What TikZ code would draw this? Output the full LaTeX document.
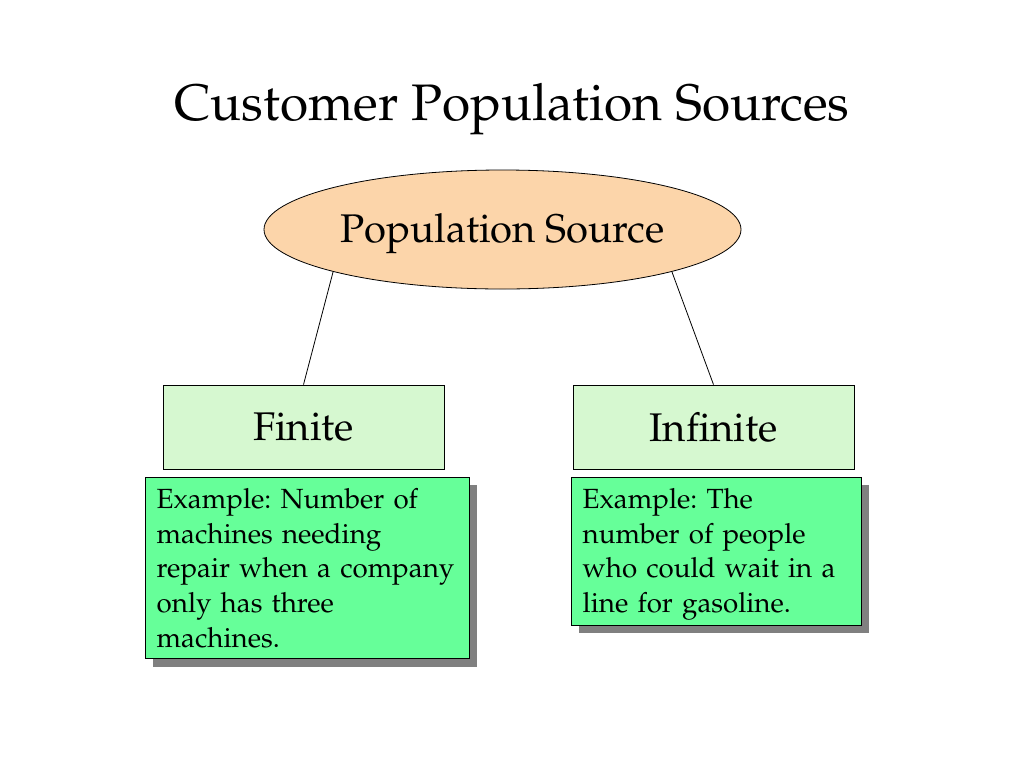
\documentclass[tikz,border=0pt]{standalone}
\usepackage[T1]{fontenc}
\usepackage{mathpazo}
\usetikzlibrary{shapes.geometric,shadows}

\definecolor{peach}{RGB}{252,213,170}
\definecolor{kindgreen}{RGB}{214,248,208}
\definecolor{exgreen}{RGB}{102,255,153}
\definecolor{shadowgray}{RGB}{128,128,128}

\tikzset{
  srcnode/.style={ellipse, draw, fill=peach, line width=0.6pt, inner sep=0pt,
    text height=28.5pt, text depth=8.3pt,
    minimum width=357.75pt, minimum height=89.25pt, font=\fontsize{30}{36}\selectfont},
  kindbox/.style={rectangle, draw, fill=kindgreen, line width=0.6pt,
    minimum width=210.75pt, minimum height=63pt, font=\fontsize{30}{36}\selectfont},
  exbox/.style={rectangle, draw, fill=exgreen, line width=0.6pt, anchor=north west,
    align=left, inner xsep=8.5pt, inner ysep=8.3pt,
    font=\fontsize{20.8}{26}\selectfont\frenchspacing,
    drop shadow={shadow xshift=6pt, shadow yshift=-6pt, opacity=1, fill=shadowgray}},
  link/.style={line width=0.6pt}
}

\begin{document}
\begin{tikzpicture}[x=0.75pt,y=-0.75pt]
\useasboundingbox (0,0) rectangle (1024,768);

% heading
\node[anchor=base] (title) at (512,120) {\fontsize{38.5}{46}\selectfont Customer Population Sources};

% source and its two kinds
\node[srcnode] (src) at (502.5,229.5) {Population Source};
\node[kindbox] (fin) at (303.5,427) {Finite};
\node[kindbox] (infin) at (713.5,427) {Infinite};

% examples
\node[exbox, text width=226pt] (exfin) at (145,477) {Example: Number of\\ machines needing\\ repair when a company\\ only has three\\ machines.};
\node[exbox, text width=200.5pt, text depth=79.4pt] (exinf) at (571,477) {Example: The\\ number of people\\ who could wait in a\\ line for gasoline.};

\draw[link] (src.194) -- (fin.north);
\draw[link] (src.346) -- (infin.north);

\end{tikzpicture}
\end{document}
